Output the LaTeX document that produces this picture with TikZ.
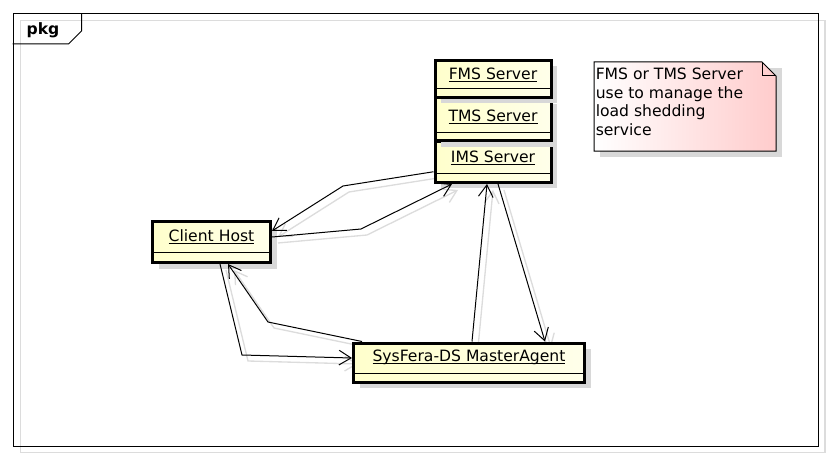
\documentclass[tikz,border=0pt]{standalone}
\usepackage{fontspec}
\setmainfont{DejaVu Sans}
\usetikzlibrary{arrows.meta,calc,shadows}
\definecolor{objfillA}{RGB}{255,255,204}
\definecolor{objfillB}{RGB}{255,255,234}
\definecolor{notefillA}{RGB}{255,255,255}
\definecolor{notefillB}{RGB}{255,204,204}
\definecolor{shadowgray}{RGB}{216,216,216}
\definecolor{wiregray}{RGB}{220,220,220}
% underlined object name with the rule at a fixed depth
\newcommand\objname[1]{\setbox0=\hbox{#1}\rlap{\copy0}\rule[-2.2pt]{\wd0}{0.7pt}}
\pgfdeclarelayer{background}
\pgfsetlayers{background,main}

\begin{document}
\begin{tikzpicture}[x=0.75pt,y=-0.75pt,
  txt/.style={font=\fontsize{11.7}{14}\selectfont, inner sep=0pt},
  objbox/.style={draw=black, line width=2.25pt, left color=objfillA, right color=objfillB,
    inner sep=0pt, drop shadow={shadow xshift=4.5pt, shadow yshift=-4.5pt, fill=shadowgray, opacity=1}},
  sepline/.style={draw=black, line width=0.75pt},
  frameline/.style={draw=black, line width=0.75pt},
  link/.style={draw=black, line width=0.75pt, -{Straight Barb[length=9pt,width=11pt]}},
  linkshadow/.style={draw=wiregray, line width=1pt, -{Straight Barb[length=9pt,width=11pt]}},
]
\useasboundingbox (0,0) rectangle (832,460);

% package frame with its offset outline
\draw[wiregray, line width=1.2pt] (20.5,20.5) rectangle (825,452.5);
\draw[frameline] (13.5,13.5) rectangle (818.5,446);
\draw[frameline] (12.5,44) -- (68.5,44) -- (81.5,31) -- (81.5,13.5);
\node[txt, font=\fontsize{11.7}{14}\selectfont\bfseries] (pkg) at (43,30) {pkg};

% object boxes
\node[objbox, minimum width=87pt, minimum height=31.1pt] (ims) at (493,161.75) {};
\node[objbox, minimum width=87pt, minimum height=32.6pt] (tms) at (493,119.25) {};
\node[objbox, minimum width=87pt, minimum height=27.75pt] (fms) at (493,79) {};
\node[objbox, minimum width=88.5pt, minimum height=30.75pt] (client) at (211.5,242) {};
\node[objbox, minimum width=173.25pt, minimum height=29.25pt] (ma) at (469,362.5) {};

\draw[sepline] ($(fms.south west)+(1,-10)$) -- ($(fms.south east)+(-1,-10)$);
\draw[sepline] ($(tms.south west)+(1,-10)$) -- ($(tms.south east)+(-1,-10)$);
\draw[sepline] ($(ims.south west)+(1,-10)$) -- ($(ims.south east)+(-1,-10)$);
\draw[sepline] ($(client.south west)+(1,-12)$) -- ($(client.south east)+(-1,-12)$);
\draw[sepline] ($(ma.south west)+(1,-10)$) -- ($(ma.south east)+(-1,-10)$);

\node[txt] (fmsname) at (493,75) {\objname{FMS Server}};
\node[txt] (tmsname) at (493,117) {\objname{TMS Server}};
\node[txt] (imsname) at (493,158) {\objname{IMS Server}};
\node[txt] (clientname) at (211.5,237) {\objname{Client Host}};
\node[txt] (maname) at (469,357) {\objname{SysFera-DS MasterAgent}};

% note with folded corner
\fill[shadowgray] (600,68) -- (782,68) -- (782,157) -- (600,157) -- cycle;
\shade[left color=notefillA, right color=notefillB] (594,62) -- (762,62) -- (776,76) -- (776,151) -- (594,151) -- cycle;
\draw[frameline] (594,62) -- (762,62) -- (776,76) -- (776,151) -- (594,151) -- cycle;
\draw[frameline] (762,62) -- (762,76) -- (776,76);
\node[txt, anchor=north west, align=left] (note) at (595.5,67.5) {FMS or TMS Server\\use to manage the\\load shedding\\service};

% bend points of the connectors
\coordinate (k1) at (343,186);
\coordinate (k2) at (361,229);
\coordinate (k3) at (268,322);
\coordinate (k4) at (242,355);

% connector shadows, offset down and to the right
\begin{pgfonlayer}{background}
\begin{scope}[transform canvas={shift={(4.5pt,-4.5pt)}}]
\draw[linkshadow] ($(ims.west)+(0,10)$) -- (k1) -- ($(client.east)+(0,-11)$);
\draw[linkshadow] ($(client.east)+(0,-5)$) -- (k2) -- ($(ims.south)+(-41,0)$);
\draw[linkshadow] ($(ma.north west)+(10,0)$) -- (k3) -- ($(client.south)+(16.5,0)$);
\draw[linkshadow] ($(client.south)+(8.5,0)$) -- (k4) -- ($(ma.west)+(0,-4.5)$);
\draw[linkshadow] ($(ma.north)+(3,0)$) -- ($(ims.south)+(-6,0)$);
\draw[linkshadow] ($(ims.south)+(5,0)$) -- ($(ma.north)+(76,0)$);
\end{scope}
\end{pgfonlayer}

% connectors
\draw[link] ($(ims.west)+(0,10)$) -- (k1) -- ($(client.east)+(0,-11)$);
\draw[link] ($(client.east)+(0,-5)$) -- (k2) -- ($(ims.south)+(-41,0)$);
\draw[link] ($(ma.north west)+(10,0)$) -- (k3) -- ($(client.south)+(16.5,0)$);
\draw[link] ($(client.south)+(8.5,0)$) -- (k4) -- ($(ma.west)+(0,-4.5)$);
\draw[link] ($(ma.north)+(3,0)$) -- ($(ims.south)+(-6,0)$);
\draw[link] ($(ims.south)+(5,0)$) -- ($(ma.north)+(76,0)$);
\end{tikzpicture}
\end{document}
